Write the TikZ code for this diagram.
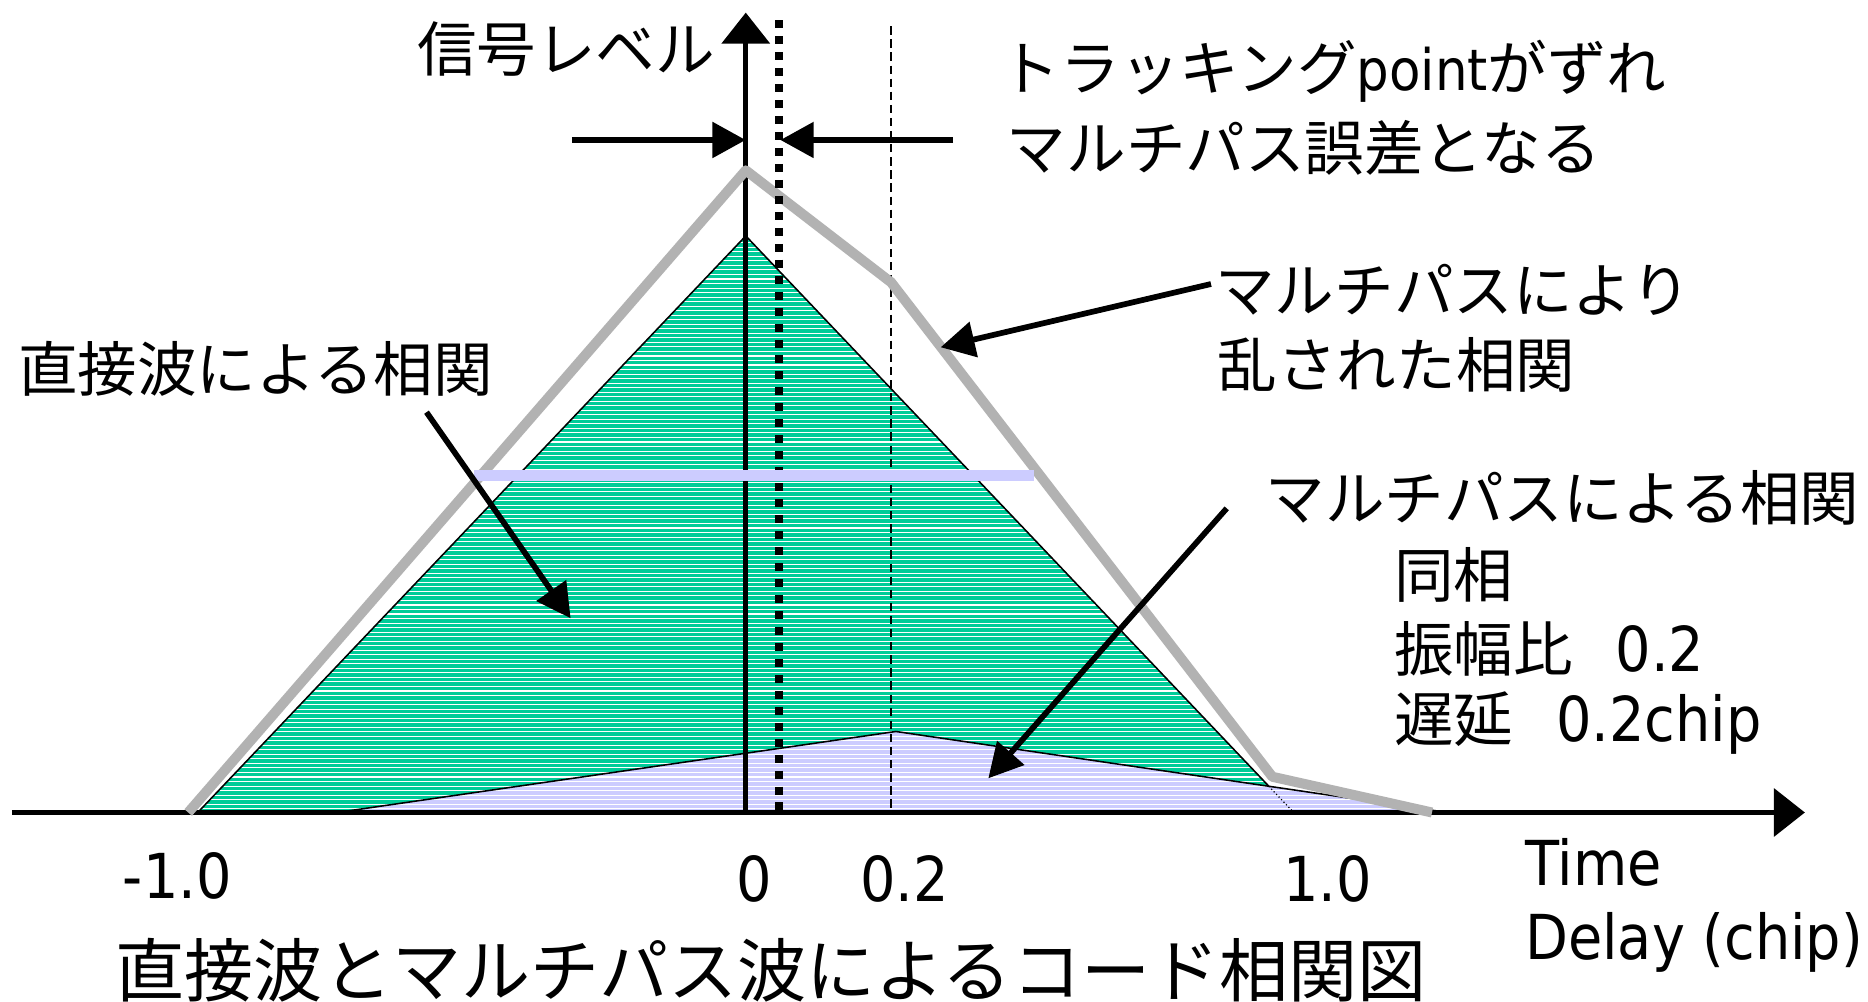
\documentclass[tikz,border=0pt]{standalone}
\usepackage{fontspec}
\newfontfamily\jp{Noto Sans CJK JP}
\newfontfamily\lat[FakeStretch=0.9]{DejaVu Sans}
\usetikzlibrary{arrows.meta}
\definecolor{hgreen}{HTML}{00CC99}
\definecolor{hpurple}{HTML}{CCCCFF}
\definecolor{hgray}{HTML}{B2B2B2}
\begin{document}
\begin{tikzpicture}[x=1pt,y=-1pt,
  jtxt/.style={inner sep=0pt, anchor=west, font=\fontsize{50}{60}\selectfont\jp},
  ltxt/.style={inner sep=0pt, anchor=base west, font=\fontsize{52}{60}\selectfont\lat},
  axisarrow/.style={line width=4pt, -{Triangle[length=26pt,width=40pt]}},
  shiftarrow/.style={line width=5.6pt, -{Triangle[length=28pt,width=29pt]}},
  pointer/.style={line width=4.8pt, -{Triangle[length=28.5pt,width=29.5pt]}},
  edge/.style={line width=1.3pt, line join=miter}]
\fill[white] (0,0) rectangle (1568,841);
\useasboundingbox (0,0) rectangle (1568,841);

% key points
\coordinate (GL) at (166,682);
\coordinate (GA) at (626,198);
\coordinate (GR) at (1086,682);
\coordinate (PL) at (283,682);
\coordinate (PA) at (752,614);
\coordinate (PR) at (1215,682);
\coordinate (GX) at (1065,660);

% direct-wave correlation (green, hatched)
\begin{scope}
  \clip (GL) -- (GA) -- (GR) -- cycle;
  \fill[hgreen] (GL) -- (GA) -- (GR) -- cycle;
  \foreach \yy in {200,203.8,...,682} \draw[white, line width=0.9pt] (100,\yy) -- (1300,\yy);
\end{scope}
\draw[edge] (GL) -- (GA) -- (GR);

% multipath correlation (purple, hatched)
\begin{scope}
  \clip (PL) -- (PA) -- (PR) -- cycle;
  \fill[hpurple] (PL) -- (PA) -- (PR) -- cycle;
  \foreach \yy in {200,203.8,...,682} \draw[white, line width=0.9pt] (100,\yy) -- (1300,\yy);
\end{scope}
\draw[edge] (PL) -- (PA) -- (PR);
\draw[line width=1pt, dotted] (GX) -- (GR);

% horizontal axis
\coordinate (HA0) at (10,682);
\coordinate (HA1) at (1515,682);
\draw[axisarrow] (HA0) -- (HA1);

% vertical axis
\coordinate (VA0) at (626,684);
\coordinate (VA1) at (626,10.6);
\draw[axisarrow] (VA0) -- (VA1);

% thin dashed line at 0.2
\coordinate (D0) at (748,22);
\coordinate (D1) at (748,682);
\draw[line width=1.3pt, dash pattern=on 7pt off 4pt] (D0) -- (D1);

% distorted correlation (gray)
\coordinate (K0) at (158,682);
\coordinate (K1) at (626,143);
\coordinate (K2) at (748,237);
\coordinate (K3) at (1068,652);
\coordinate (K4) at (1202,682);
\draw[hgray, line width=8.4pt, line join=round] (K0) -- (K1) -- (K2) -- (K3) -- (K4);

% shifted tracking point (dotted)
\coordinate (T0) at (654,17);
\coordinate (T1) at (654,682);
\draw[line width=6.7pt, dash pattern=on 6.7pt off 6.7pt] (T0) -- (T1);

% lavender bar
\coordinate (B0) at (398,399);
\coordinate (B1) at (868,399);
\draw[hpurple, line width=9.2pt] (B0) -- (B1);

% shift arrows
\coordinate (S0) at (480,117.5);
\coordinate (S1) at (626,117.5);
\coordinate (S2) at (800,117.5);
\coordinate (S3) at (655,117.5);
\draw[shiftarrow] (S0) -- (S1);
\draw[shiftarrow] (S2) -- (S3);

% pointers
\coordinate (A0) at (358,346);
\coordinate (A1) at (479,519);
\coordinate (A2) at (1016.5,238.4);
\coordinate (A3) at (789.6,291.5);
\coordinate (A4) at (1029.7,426.7);
\coordinate (A5) at (829.6,653.3);
\draw[pointer] (A0) -- (A1);
\draw[pointer] (A2) -- (A3);
\draw[pointer] (A4) -- (A5);

% texts
\node[jtxt] (lvl) at (350,41) {信号レベル};
\node[jtxt] (trk1) at (840,60) {トラッキング{\lat\fontsize{48}{60}\selectfont point}がずれ};
\node[jtxt] (trk2) at (845,124) {マルチパス誤差となる};
\node[jtxt] (dir) at (15,310) {直接波による相関};
\node[jtxt] (dist1) at (1020,243) {マルチパスにより};
\node[jtxt] (dist2) at (1022,306) {乱された相関};
\node[jtxt] (mp) at (1062,418) {マルチパスによる相関};
\node[jtxt] (ph) at (1170,483) {同相};
\node[jtxt] (amp) at (1170,545) {振幅比\hspace{36pt}{\lat\fontsize{52}{60}\selectfont 0.2}};
\node[jtxt] (dly) at (1170,607) {遅延\hspace{36pt}{\lat\fontsize{52}{60}\selectfont 0.2chip}};

\node[ltxt] (xm1) at (103,754) {-1.0};
\node[ltxt] (x0) at (618,757) {0};
\node[ltxt] (x02) at (722,757) {0.2};
\node[ltxt] (x1) at (1077,757) {1.0};
\node[ltxt] (tm) at (1280,743) {Time};
\node[ltxt] (dl) at (1280,805) {Delay (chip)};

\node[inner sep=0pt, anchor=west, font=\fontsize{58}{66}\selectfont\jp] (cap) at (97,814) {直接波とマルチパス波によるコード相関図};
\end{tikzpicture}
\end{document}
